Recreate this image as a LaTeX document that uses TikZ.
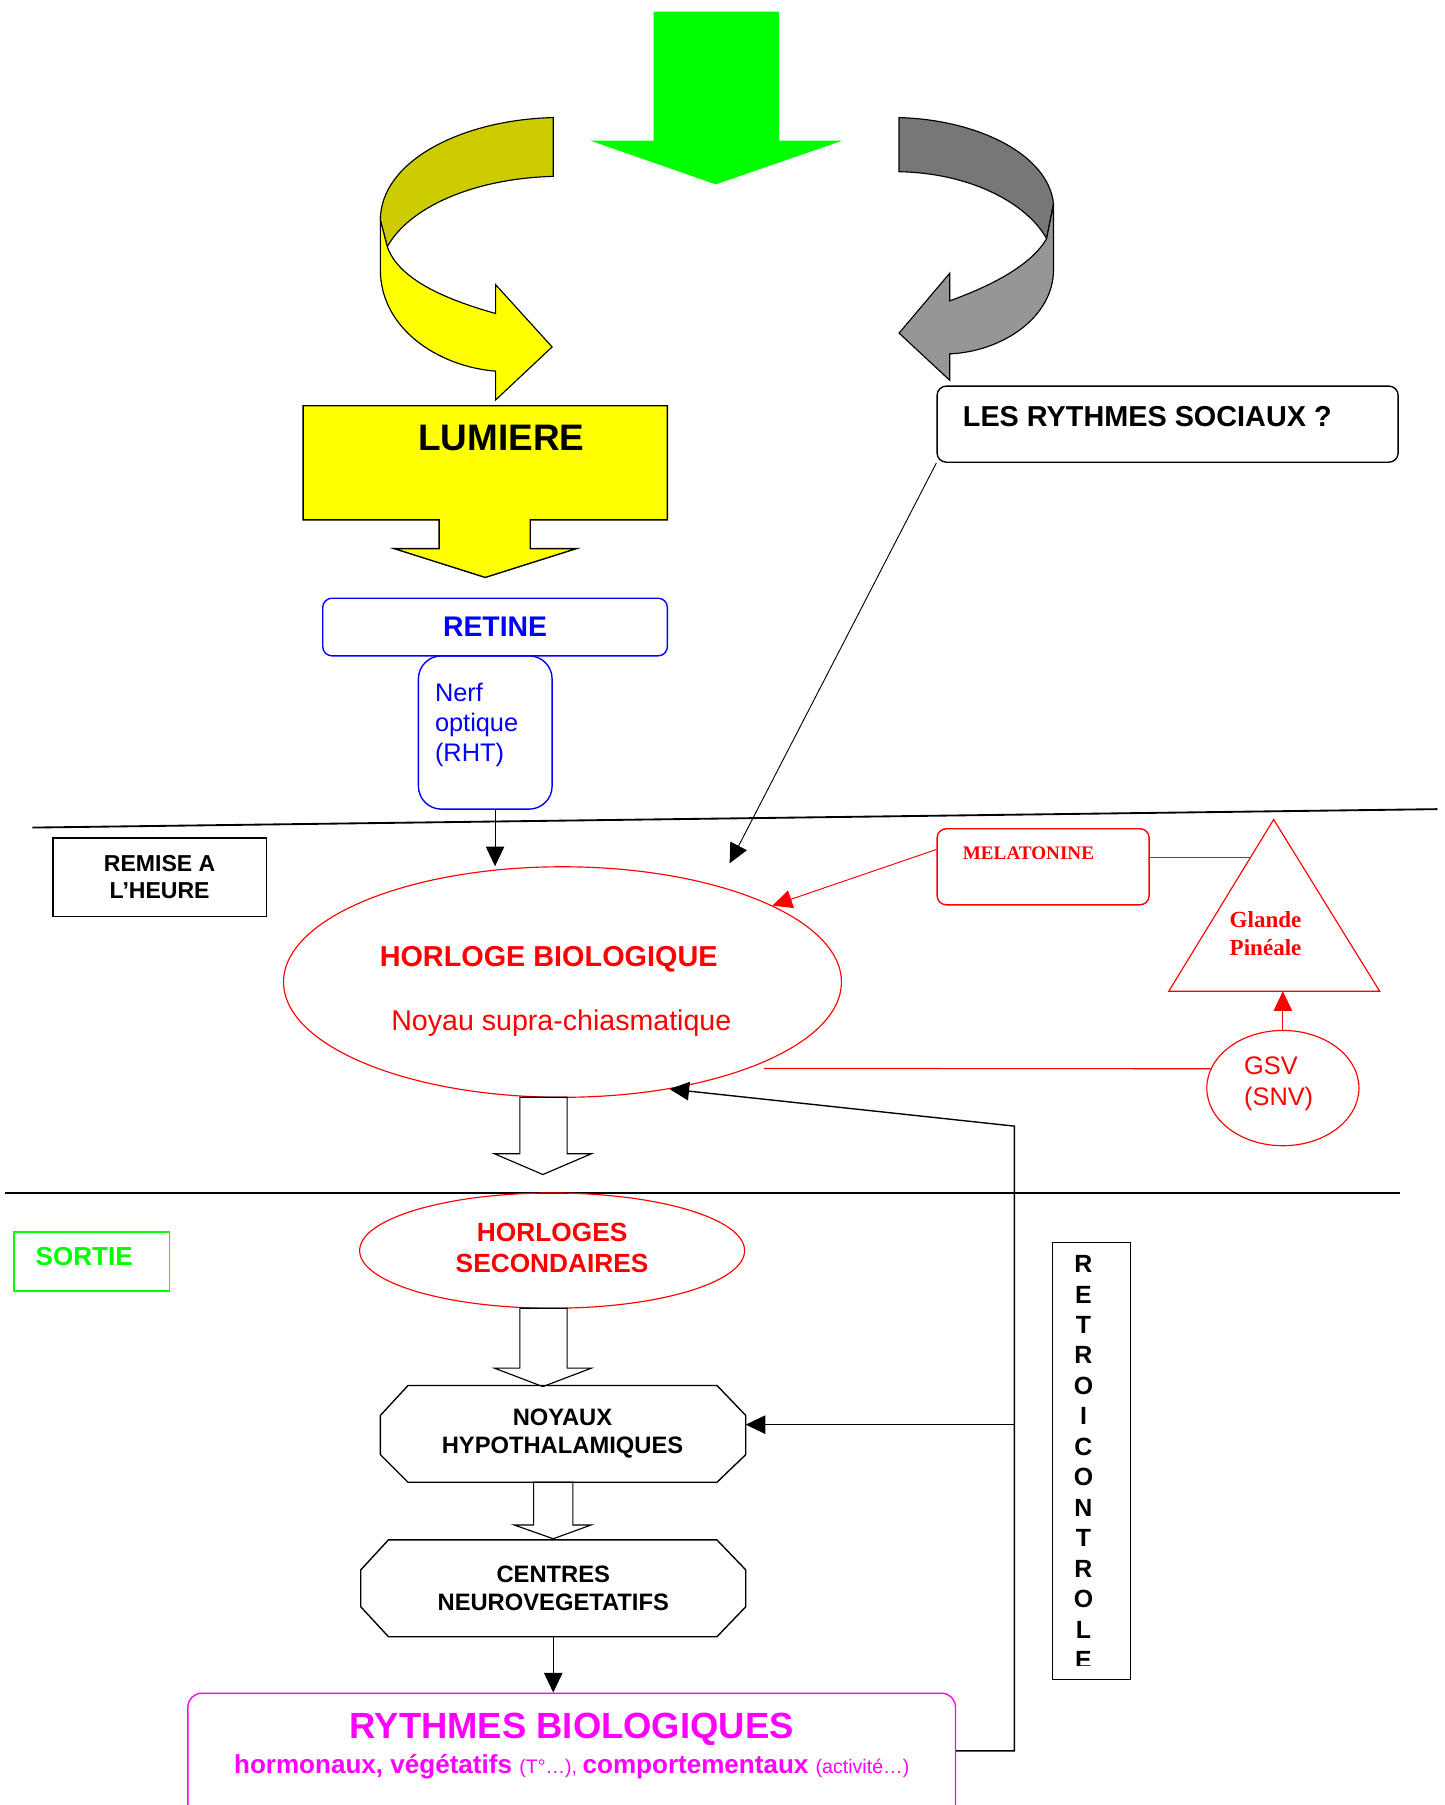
\documentclass[tikz,border=0pt]{standalone}
\usepackage{fontspec}
\setmainfont{Liberation Sans}
\newfontfamily\romain{Liberation Serif}
\usetikzlibrary{arrows.meta,shapes.geometric}

\definecolor{vert}{RGB}{0,255,0}
\definecolor{jaune}{RGB}{255,255,0}
\definecolor{jauneFonce}{RGB}{204,204,0}
\definecolor{grisFonce}{RGB}{119,119,119}
\definecolor{grisClair}{RGB}{150,150,150}
\definecolor{bleu}{RGB}{0,0,255}
\definecolor{rouge}{RGB}{255,0,0}
\definecolor{rose}{RGB}{255,0,255}

\tikzset{
  fleche/.style={-{Triangle[length=8.5pt,width=8pt]}},
  boite/.style={draw, inner sep=0pt, line width=0.6pt},
  bloc/.style={draw, fill=white, line width=0.5pt},
  octo/.style={draw, line width=0.6pt},
  ovale/.style={ellipse, draw=rouge, inner sep=0pt, line width=0.5pt}
}

\begin{document}
\begin{tikzpicture}[x=0.5pt,y=-0.5pt]
\useasboundingbox (0,0) rectangle (1253,1566);
% Fleche verte
\fill[vert] (567,10) -- (676,10) -- (676,122) -- (731,122) -- (621,160) -- (512,122) -- (567,122) -- cycle;
% Fleche jaune courbe
\filldraw[fill=jauneFonce, line width=0.5pt] (480,102) .. controls (400,104) and (330,140) .. (330,191)
  -- (336,214) .. controls (355,180) and (410,155) .. (480,153) -- cycle;
\filldraw[fill=jaune, line width=0.5pt] (330,191) -- (330,234) .. controls (330,285) and (380,318) .. (430,322)
  -- (430,347) -- (479,301) -- (430,247) -- (430,272) .. controls (380,258) and (345,240) .. (336,214) -- cycle;
% Fleche grise courbe
\filldraw[fill=grisFonce, line width=0.5pt] (780,102) .. controls (850,104) and (910,135) .. (914,177)
  -- (908,207) .. controls (890,175) and (840,150) .. (780,149) -- cycle;
\filldraw[fill=grisClair, line width=0.5pt] (914,177) -- (914,234) .. controls (914,275) and (870,305) .. (824,307)
  -- (824,330) -- (780,289) -- (824,237) -- (824,261) .. controls (860,248) and (895,230) .. (908,207) -- cycle;
% Lumiere
\filldraw[fill=jaune, line width=0.6pt] (263,352) -- (579,352) -- (579,451) -- (460,451) -- (460,476) -- (500,476)
  -- (421,501) -- (342,476) -- (381,476) -- (381,451) -- (263,451) -- cycle;
\node[font=\bfseries\fontsize{16}{19}\selectfont] (lumiere) at (435,380) {LUMIERE};
% Rythmes sociaux
\node[boite, rounded corners=4pt, minimum width=200pt, minimum height=33pt] (sociaux) at (1013,368) {};
\node[anchor=west, inner sep=0pt, font=\bfseries\fontsize{12.5}{15}\selectfont] (sociauxtxt) at (835,361) {LES RYTHMES SOCIAUX ?};
% Retine et nerf optique
\node[boite, draw=bleu, rounded corners=4pt, minimum width=149.5pt, minimum height=25pt,
  text=bleu, font=\bfseries\fontsize{12.3}{15}\selectfont] (retine) at (429.5,544) {RETINE};
\node[boite, draw=bleu, rounded corners=10pt, minimum width=58pt, minimum height=66.5pt] (nerf) at (421,635.5) {};
\node[anchor=west, inner sep=0pt, align=left, text=bleu, font=\fontsize{11}{13}\selectfont] (nerftxt) at (377,629) {Nerf\\optique\\(RHT)};
% Lignes de separation
\draw[line width=0.8pt] (28,718) -- (1247,702);
\draw[line width=0.8pt] (4,1035) -- (1215,1035);
% Remise a l'heure
\node[boite, minimum width=92.5pt, minimum height=34pt, align=center,
  font=\bfseries\fontsize{10}{11.5}\selectfont] (remise) at (138.5,761) {REMISE A\\L’HEURE};
% Horloge biologique
\node[ovale, minimum width=242pt, minimum height=100pt] (horloge) at (488,852) {};
\node[text=rouge, font=\bfseries\fontsize{12.5}{15}\selectfont] (horlogetxt) at (476,832) {HORLOGE BIOLOGIQUE};
\node[text=rouge, font=\fontsize{12.4}{15}\selectfont] (noyautxt) at (487,888) {Noyau supra-chiasmatique};
\draw[fleche] (retine.center |- nerf.south) -- (retine.center |- horloge.north);
\coordinate (sociauxFin) at (633,749);
\draw[fleche] (sociaux.south west) -- (sociauxFin);
% Melatonine, glande pineale, GSV
\node[boite, draw=rouge, rounded corners=4pt, minimum width=92pt, minimum height=33pt] (melatonine) at (905,752) {};
\node[anchor=west, inner sep=0pt, text=rouge, font=\romain\bfseries\fontsize{8.3}{10}\selectfont] (melatoninetxt) at (835,740) {MELATONINE};
\draw[fleche, draw=rouge, fill=rouge] ([yshift=7.5pt]melatonine.west) -- (horloge.20);
\coordinate (glandeH) at (1105,711);
\coordinate (glandeD) at (1197,860);
\coordinate (glandeG) at (1014,860);
\coordinate (glandeL) at (1085,744);
\draw[rouge, line width=0.5pt] (glandeH) -- (glandeD) -- (glandeG) -- cycle;
\node[align=center, text=rouge, font=\romain\bfseries\fontsize{10}{12}\selectfont] (glande) at (1098,810) {Glande\\Pinéale};
\draw[rouge, line width=0.5pt] ([yshift=4pt]melatonine.east) -- (glandeL);
\node[ovale, minimum width=66pt, minimum height=50pt] (gsv) at (1113,944) {};
\node[anchor=west, inner sep=0pt, align=left, text=rouge, font=\fontsize{11}{13.5}\selectfont] (gsvtxt) at (1079,940.5) {GSV\\(SNV)};
\draw[fleche, draw=rouge, fill=rouge] (gsv.north) -- (gsv.north |- glandeD);
\coordinate (gsvFin) at (663,927);
\draw[rouge, line width=0.5pt] (gsv.165) -- (gsvFin);
% Sortie
\node[boite, draw=vert, minimum width=67.5pt, minimum height=25.5pt] (sortie) at (79.5,1094.5) {};
\node[text=vert, font=\bfseries\fontsize{11.3}{14}\selectfont] (sortietxt) at (73,1090) {SORTIE};
\draw[bloc] (451,952) -- (492,952) -- (492,1001) -- (513,1001) -- (471,1019) -- (429,1001) -- (451,1001) -- cycle;
% Horloges secondaires
\node[ovale, minimum width=167pt, minimum height=50pt] (secondaires) at (479,1085) {};
\node[align=center, text=rouge, font=\bfseries\fontsize{11.4}{13.5}\selectfont] (secondairestxt) at (479,1082.5) {HORLOGES\\SECONDAIRES};
\draw[bloc] (451,1135) -- (492,1135) -- (492,1187) -- (513,1187) -- (471,1203) -- (429,1187) -- (451,1187) -- cycle;
% Noyaux hypothalamiques
\draw[octo] (354,1202) -- (622,1202) -- (647,1228) -- (647,1262) -- (622,1286) -- (354,1286) -- (330,1262) -- (330,1228) -- cycle;
\node[minimum width=158.5pt, minimum height=42pt, align=center, font=\bfseries\fontsize{10.3}{12}\selectfont] (noyaux) at (488,1244) {NOYAUX\\HYPOTHALAMIQUES};
\draw[bloc] (463,1286) -- (497,1286) -- (497,1323) -- (513,1323) -- (480,1335) -- (446,1323) -- (463,1323) -- cycle;
% Centres neurovegetatifs
\draw[octo] (337,1336) -- (622,1336) -- (647,1362) -- (647,1394) -- (622,1420) -- (337,1420) -- (313,1394) -- (313,1362) -- cycle;
\node[minimum width=167pt, minimum height=42pt, align=center, font=\bfseries\fontsize{10.3}{12}\selectfont] (centres) at (480,1378) {CENTRES\\NEUROVEGETATIFS};
% Rythmes biologiques
\node[boite, draw=rose, rounded corners=6pt, minimum width=333pt, minimum height=55pt] (rythmes) at (496,1524) {};
\node[text=rose, font=\bfseries\fontsize{15.8}{19}\selectfont] (rythmestxt) at (496,1500) {RYTHMES BIOLOGIQUES};
\node[text=rose] (rythmessous) at (496,1533) {\bfseries\fontsize{11.3}{13}\selectfont hormonaux, végétatifs
  \mdseries\fontsize{8.5}{10}\selectfont (T°…), \bfseries\fontsize{11.3}{13}\selectfont comportementaux
  \mdseries\fontsize{8.5}{10}\selectfont (activité…)};
\draw[fleche] (centres.south) -- (centres.south |- rythmes.north);
% Retrocontrole
\coordinate (coude) at (880,977);
\coordinate (branche) at (880,1236);
\coordinate (noyauxE) at (647,1236);
\draw[fleche, line width=0.6pt] ([yshift=2.5pt]rythmes.east) -| (coude) -- (horloge.-45);
\draw[fleche, line width=0.6pt] (branche) -- (noyauxE);
\node[boite, minimum width=34pt, minimum height=189.5pt] (retro) at (947,1267.5) {};
\begin{scope}
\clip (913,1078) rectangle (981,1445);
\foreach \l [count=\i] in {R,E,T,R,O,I,C,O,N,T,R,O,L,E}
  \node[font=\bfseries\fontsize{10.8}{13}\selectfont] at (940,{1096.6+26.45*(\i-1)}) {\l};
\end{scope}
\end{tikzpicture}
\end{document}
